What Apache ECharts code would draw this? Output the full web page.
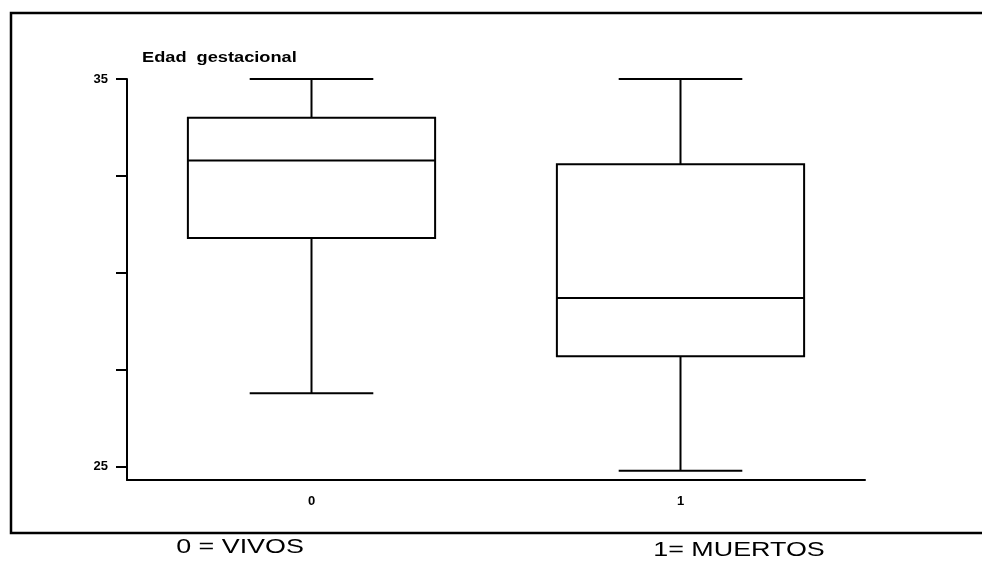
<!DOCTYPE html>
<html>
<head>
<meta charset="utf-8">
<title>Edad gestacional</title>
<script src="https://cdn.jsdelivr.net/npm/echarts@6/dist/echarts.min.js"></script>
<style>
    html, body { margin: 0; padding: 0; background: #fff; }
    #chart { width: 982px; height: 563px; }
</style>
</head>
<body>
<div id="chart"></div>
<script>
// grupos (eje x)
var categories = ['0', '1'];
// bigote inferior, Q1, mediana, Q3, bigote superior
var vivos = [26.9, 30.9, 32.9, 34.0, 35.0];
var muertos = [24.9, 27.85, 29.35, 32.8, 35.0];
var yTicks = [25, 27.5, 30, 32.5, 35];
var yLabels = [25, 35];

var boxData = [vivos, muertos].map(function (d, i) {
    return [i].concat(d);
});

var ink = '#000';
var labelFont = {
    color: ink,
    fontFamily: 'Liberation Sans, Arial, sans-serif',
    fontWeight: 'bold',
    fontSize: 13
};

function renderBox(params, api) {
    var x = api.value(0);
    var lo = api.coord([x, api.value(1)]);
    var q1 = api.coord([x, api.value(2)]);
    var md = api.coord([x, api.value(3)]);
    var q3 = api.coord([x, api.value(4)]);
    var hi = api.coord([x, api.value(5)]);
    var band = api.size([1, 0])[0];
    var half = band * 0.335;
    var cap = half / 2;
    var cx = md[0];
    var st = { stroke: ink, lineWidth: 2 };
    return {
        type: 'group',
        children: [
            { type: 'line', shape: { x1: cx, y1: q3[1], x2: cx, y2: hi[1] }, style: st },
            { type: 'line', shape: { x1: cx, y1: q1[1], x2: cx, y2: lo[1] }, style: st },
            { type: 'line', shape: { x1: cx - cap, y1: hi[1], x2: cx + cap, y2: hi[1] }, style: st },
            { type: 'line', shape: { x1: cx - cap, y1: lo[1], x2: cx + cap, y2: lo[1] }, style: st },
            {
                type: 'rect',
                shape: { x: cx - half, y: q3[1], width: half * 2, height: q1[1] - q3[1] },
                style: { stroke: ink, lineWidth: 2, fill: '#fff' }
            },
            { type: 'line', shape: { x1: cx - half, y1: md[1], x2: cx + half, y2: md[1] }, style: st }
        ]
    };
}

var myChart = echarts.init(document.getElementById('chart'));
myChart.setOption({
    backgroundColor: '#fff',
    animation: false,
    grid: { left: 127, right: 117, top: 79, bottom: 83 },
    xAxis: {
        type: 'category',
        data: categories,
        axisLine: { lineStyle: { color: ink, width: 2 } },
        axisTick: { show: false },
        axisLabel: $label(15)
    },
    yAxis: {
        type: 'value',
        min: 24.66,
        max: 35,
        splitLine: { show: false },
        axisLine: { show: true, lineStyle: { color: ink, width: 2 } },
        axisTick: {
            show: true,
            inside: false,
            length: 11,
            customValues: yTicks,
            lineStyle: { color: ink, width: 2 }
        },
        axisLabel: Object.assign($label(19), { customValues: yLabels })
    },
    graphic: [{
        type: 'rect',
        z: -10,
        shape: { x: 11, y: 13, width: 1000, height: 520 },
        style: { stroke: ink, lineWidth: 2.5, fill: null }
    }, {
        type: 'text',
        x: 142,
        y: 58,
        scaleX: 1.3,
        style: {
            text: 'Edad  gestacional',
            fill: ink,
            font: 'bold 14px "Liberation Sans", Arial, sans-serif',
            textAlign: 'left',
            textVerticalAlign: 'middle'
        }
    }, {
        type: 'text',
        x: 240,
        y: 547,
        scaleX: 1.28,
        style: {
            text: '0 = VIVOS',
            fill: ink,
            font: '21px "Liberation Sans", Arial, sans-serif',
            textAlign: 'center',
            textVerticalAlign: 'middle'
        }
    }, {
        type: 'text',
        x: 739,
        y: 550,
        scaleX: 1.28,
        style: {
            text: '1= MUERTOS',
            fill: ink,
            font: '21px "Liberation Sans", Arial, sans-serif',
            textAlign: 'center',
            textVerticalAlign: 'middle'
        }
    }],
    series: [{
        type: 'custom',
        name: 'Edad gestacional',
        renderItem: renderBox,
        encode: { x: 0, y: [1, 2, 3, 4, 5] },
        data: boxData
    }]
});

function $label(margin) {
    return Object.assign({ margin: margin }, labelFont);
}
</script>
</body>
</html>
